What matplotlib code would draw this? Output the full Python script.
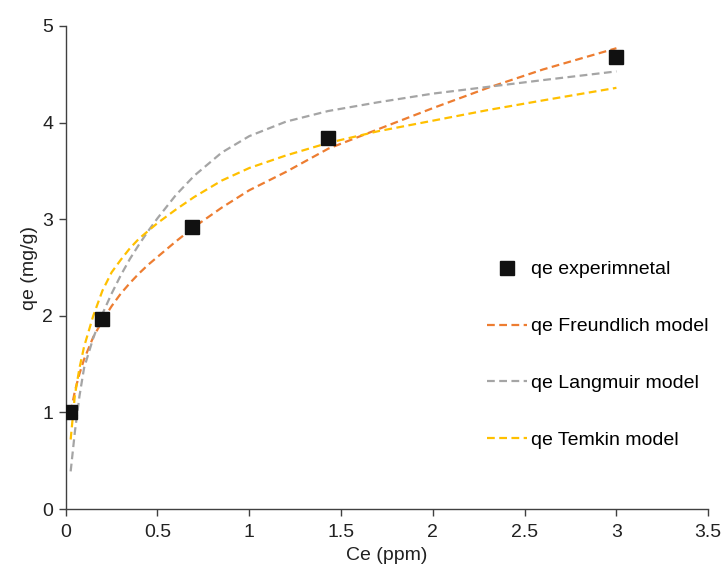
import matplotlib
matplotlib.use("Agg")
import matplotlib.pyplot as plt

# valeurs
ce_exp = [0.025, 0.2, 0.69, 1.43, 3.0]
qe_exp = [1.0, 1.97, 2.92, 3.84, 4.68]

# points des courbes des modeles
ce_model = [0.027, 0.05, 0.075, 0.1, 0.15, 0.2, 0.25, 0.3, 0.35, 0.4, 0.45,
            0.5, 0.6, 0.7, 0.85, 1.0, 1.2, 1.43, 1.7, 2.0, 2.3, 2.6, 3.0]
qe_freundlich = [1.00, 1.22, 1.40, 1.55, 1.78, 1.95, 2.10, 2.23, 2.34, 2.44, 2.53,
                 2.61, 2.77, 2.92, 3.12, 3.30, 3.49, 3.73, 3.93, 4.15, 4.36, 4.55, 4.77]
qe_langmuir = [0.39, 0.80, 1.17, 1.46, 1.77, 2.02, 2.23, 2.42, 2.59, 2.74, 2.88,
               3.01, 3.25, 3.45, 3.69, 3.86, 4.01, 4.12, 4.21, 4.30, 4.37, 4.44, 4.53]
qe_temkin = [0.72, 1.18, 1.46, 1.68, 2.00, 2.26, 2.45, 2.58, 2.70, 2.80, 2.88,
             2.96, 3.10, 3.23, 3.40, 3.53, 3.66, 3.79, 3.91, 4.02, 4.13, 4.23, 4.36]

x_ticks = [0, 0.5, 1, 1.5, 2, 2.5, 3, 3.5]
x_labels = ["0", "0.5", "1", "1.5", "2", "2.5", "3", "3.5"]
y_ticks = [0, 1, 2, 3, 4, 5]

plt.rcParams['font.family'] = ['Liberation Sans', 'DejaVu Sans']

fig = plt.figure(figsize=(7.26, 5.65), dpi=100)
ax = fig.add_axes([0.0905, 0.099, 0.885, 0.855])

dash = (0, (3.5, 2))
ax.plot(ce_exp, qe_exp, linestyle='none', marker='s', markersize=9.5,
        color='#111111', label='qe experimnetal', zorder=5)
ax.plot(ce_model, qe_freundlich, color='#ED7D31', linewidth=1.6,
        linestyle=dash, label='qe Freundlich model')
ax.plot(ce_model, qe_langmuir, color='#A5A5A5', linewidth=1.6,
        linestyle=dash, label='qe Langmuir model')
ax.plot(ce_model, qe_temkin, color='#FFC000', linewidth=1.6,
        linestyle=dash, label='qe Temkin model')

ax.set_xlim(0, 3.5)
ax.set_ylim(0, 5)
ax.set_xticks(x_ticks, x_labels)
ax.set_yticks(y_ticks)

for s in ['top', 'right']:
    ax.spines[s].set_visible(False)
for s in ['left', 'bottom']:
    ax.spines[s].set_color('#404040')
    ax.spines[s].set_linewidth(1.0)
ax.tick_params(direction='out', length=5, width=1.0, color='#404040',
               labelsize=14, labelcolor='#222222', pad=4)
ax.tick_params(axis='x', pad=5.5)

ax.set_xlabel('Ce (ppm)', fontsize=14, color='#222222', labelpad=4.5)
ax.set_ylabel('qe (mg/g)', fontsize=14, color='#222222', labelpad=3)

ax.legend(loc='upper left', bbox_to_anchor=(0.643, 0.530), frameon=False,
          fontsize=14, handlelength=2.06, handletextpad=0.2,
          labelspacing=2.02, borderaxespad=0)

fig.savefig('out.png', dpi=100)
